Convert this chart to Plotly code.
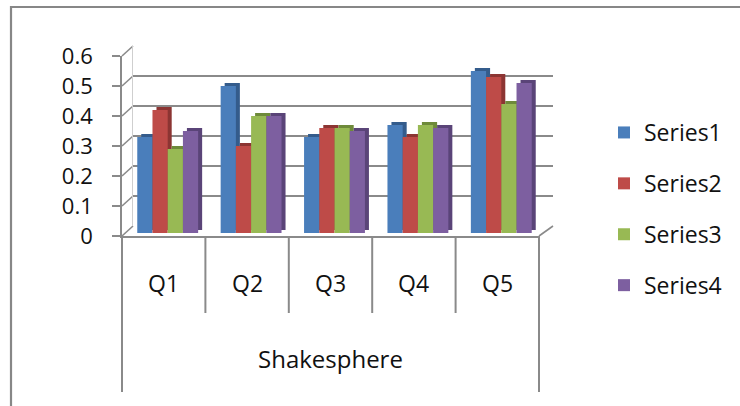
import plotly.graph_objects as go

# ---- data ----
categories = ["Q1", "Q2", "Q3", "Q4", "Q5"]
group_label = "Shakesphere"
series_names = ["Series1", "Series2", "Series3", "Series4"]
series1 = [0.32, 0.49, 0.32, 0.36, 0.54]
series2 = [0.41, 0.29, 0.35, 0.32, 0.52]
series3 = [0.28, 0.39, 0.35, 0.36, 0.43]
series4 = [0.34, 0.39, 0.34, 0.35, 0.50]
y_ticks = [0, 0.1, 0.2, 0.3, 0.4, 0.5, 0.6]
y_tick_text = ["0", "0.1", "0.2", "0.3", "0.4", "0.5", "0.6"]

series_values = [series1, series2, series3, series4]
face_colors = ["#4A7EBB", "#BE4B48", "#98B954", "#7D5FA0"]
side_colors = ["#345C8C", "#8C3533", "#6E8A3A", "#5A4478"]

# ---- geometry (pixels) ----
W, H = 740, 406
FRONT = dict(left=122, right=539, top=56, bottom=236)   # front plane of the box
BACK = (11, -10)       # back wall offset
BAR = (4, -3)          # plane where the bar faces sit
DEPTH = (4, -3)        # bar depth (top / side faces)
GRID = "#8A8A8A"
TEXT = "#111111"
FONT = "Open Sans"
YMAX = 0.6


def domain(dx=0, dy=0, extra_right=0):
    left = FRONT["left"] + dx
    right = FRONT["right"] + dx + extra_right
    top = FRONT["top"] + dy
    bottom = FRONT["bottom"] + dy
    return [left / W, right / W], [(H - bottom) / H, (H - top) / H]


def px(xp, yp):
    return xp / W, (H - yp) / H


def front_y(v):
    return FRONT["bottom"] - (FRONT["bottom"] - FRONT["top"]) * v / YMAX


def front_x(k):
    return FRONT["left"] + (FRONT["right"] - FRONT["left"]) * k / len(categories)


fig = go.Figure()

# back wall (gridlines) on xy
fig.add_trace(go.Scatter(x=[categories[0]], y=[0], mode="markers",
                         marker=dict(opacity=0), showlegend=False,
                         hoverinfo="skip", xaxis="x", yaxis="y"))

# darker depth faces of the bars on x2y2
for name, vals, col in zip(series_names, series_values, side_colors):
    fig.add_trace(go.Bar(x=categories, y=vals, name=name, marker_color=col,
                         marker_line_width=0, showlegend=False,
                         hoverinfo="skip", xaxis="x2", yaxis="y2"))

# bar front faces on x3y3
for name, vals, col in zip(series_names, series_values, face_colors):
    fig.add_trace(go.Bar(x=categories, y=vals, name=name, marker_color=col,
                         marker_line_width=0, legendgroup=name,
                         xaxis="x3", yaxis="y3"))

# front plane axes
fig.add_trace(go.Scatter(x=[categories[0]], y=[0], mode="markers",
                         marker=dict(opacity=0), showlegend=False,
                         hoverinfo="skip", xaxis="x4", yaxis="y4"))

xb, yb = domain(*BACK, extra_right=3)
xs, ys = domain(BAR[0] + DEPTH[0], BAR[1] + DEPTH[1])
xf, yf = domain(*BAR)
x0, y0 = domain()

cat_axis = dict(type="category", categoryorder="array", categoryarray=categories,
                range=[-0.5, len(categories) - 0.5], showgrid=False,
                zeroline=False, showticklabels=False, ticks="", fixedrange=True)
val_axis = dict(range=[0, YMAX], showgrid=False, zeroline=False,
                showticklabels=False, ticks="", fixedrange=True)

fig.update_layout(
    width=W, height=H,
    margin=dict(l=0, r=0, t=0, b=0, autoexpand=False),
    paper_bgcolor="white", plot_bgcolor="rgba(0,0,0,0)",
    barmode="group", bargap=0.27, bargroupgap=0,
    font=dict(family=FONT, color=TEXT, size=23),
    xaxis=dict(cat_axis, domain=xb, anchor="y"),
    yaxis=dict(val_axis, domain=yb, anchor="x", showgrid=True,
               gridcolor=GRID, gridwidth=1.6, tickvals=y_ticks,
               showline=True, linecolor="#CFCFCF", linewidth=1),
    xaxis2=dict(cat_axis, domain=xs, anchor="y2"),
    yaxis2=dict(val_axis, domain=ys, anchor="x2"),
    xaxis3=dict(cat_axis, domain=xf, anchor="y3"),
    yaxis3=dict(val_axis, domain=yf, anchor="x3"),
    xaxis4=dict(cat_axis, domain=x0, anchor="y4", showline=True,
                linecolor=GRID, linewidth=1.6),
    yaxis4=dict(range=[0, YMAX], domain=y0, anchor="x4", showgrid=False,
                zeroline=False, tickvals=y_ticks, ticktext=y_tick_text,
                ticks="outside", ticklen=8, tickwidth=1.6, tickcolor=GRID,
                ticklabelstandoff=15, showline=True, linecolor=GRID,
                linewidth=1.6, tickfont=dict(size=22, color=TEXT),
                fixedrange=True),
    legend=dict(x=604 / W, y=(H - 111) / H, xanchor="left", yanchor="top",
                font=dict(size=23, color=TEXT), tracegroupgap=18,
                bgcolor="rgba(0,0,0,0)", itemclick=False),
    showlegend=True,
)

shapes = []
line = dict(color=GRID, width=1.6)
# diagonal connectors from the front axis to the back wall
for v in y_ticks:
    fx, fy = px(FRONT["left"], front_y(v))
    bx, by = px(FRONT["left"] + BACK[0], front_y(v) + BACK[1])
    shapes.append(dict(type="line", xref="paper", yref="paper",
                       x0=fx, y0=fy, x1=bx, y1=by, line=line, layer="below"))
# right edge of the floor
fx, fy = px(FRONT["right"], FRONT["bottom"])
bx, by = px(FRONT["right"] + BACK[0] + 3, FRONT["bottom"] + BACK[1])
shapes.append(dict(type="line", xref="paper", yref="paper",
                   x0=fx, y0=fy, x1=bx, y1=by, line=line))
# category dividers below the floor
for k in range(len(categories) + 1):
    xk = front_x(k)
    outer = k in (0, len(categories))
    a = px(xk, FRONT["bottom"])
    b = px(xk, 392 if outer else 313)
    shapes.append(dict(type="line", xref="paper", yref="paper",
                       x0=a[0], y0=a[1], x1=b[0], y1=b[1],
                       line=dict(color=GRID, width=2)))
# chart area border (left and top)
p1, p2, p3 = px(11, H), px(11, 7), px(W, 7)
shapes.append(dict(type="path", xref="paper", yref="paper",
                   path=f"M {p1[0]} {p1[1]} L {p2[0]} {p2[1]} L {p3[0]} {p3[1]}",
                   line=dict(color="#878787", width=2.2)))
fig.update_layout(shapes=shapes)

annotations = []
for c in categories:
    annotations.append(dict(x=c, xref="x4", y=px(0, 283)[1], yref="paper",
                            text=c, showarrow=False,
                            font=dict(size=23, color=TEXT),
                            xanchor="center", yanchor="middle"))
annotations.append(dict(x=categories[len(categories) // 2], xref="x4",
                        y=px(0, 358)[1], yref="paper", text=group_label,
                        showarrow=False, font=dict(size=24, color=TEXT),
                        xanchor="center", yanchor="middle"))
fig.update_layout(annotations=annotations)

fig.write_html("out.html")
